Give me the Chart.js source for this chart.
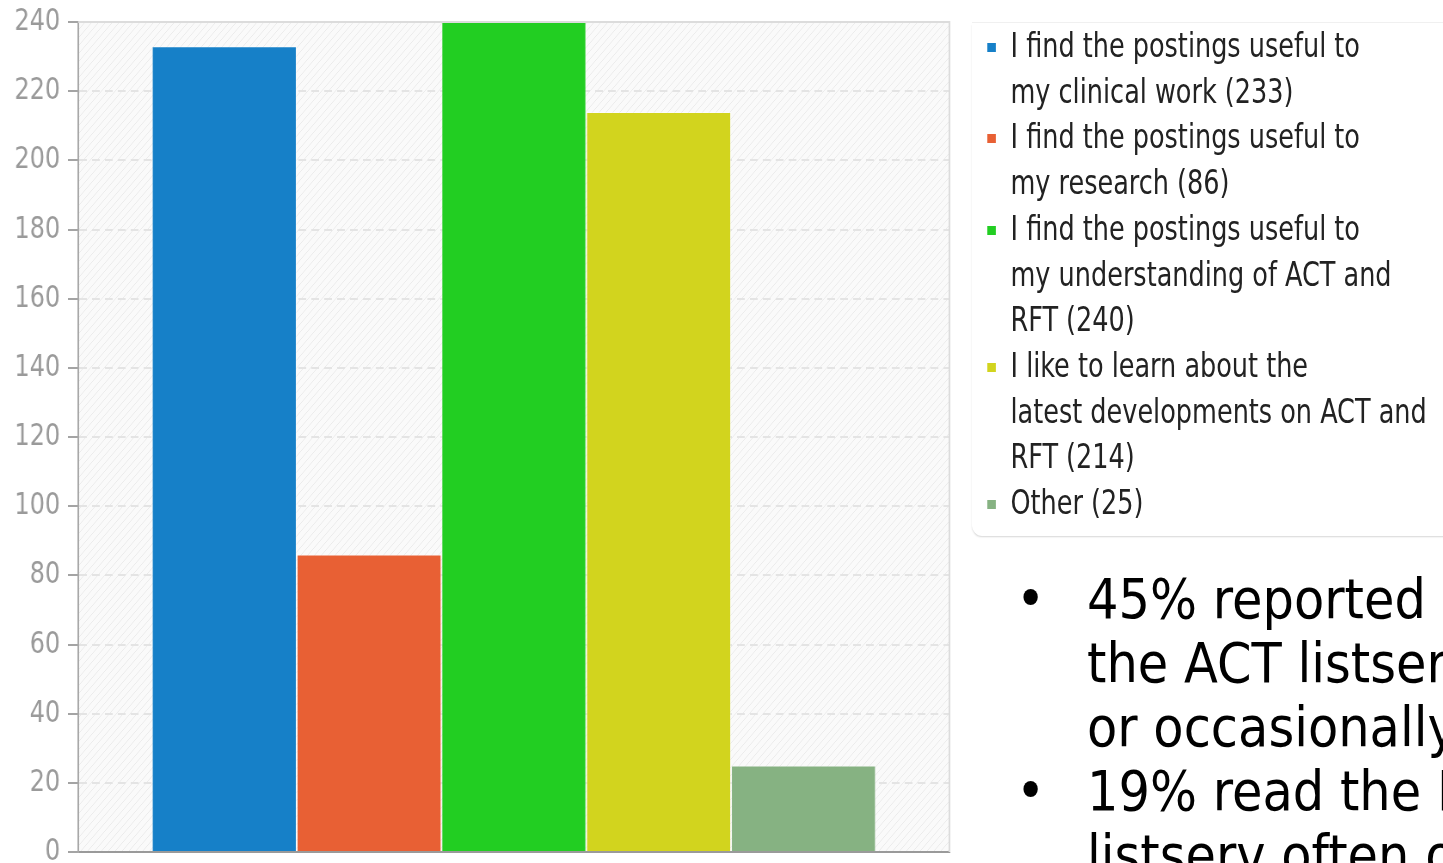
<!DOCTYPE html>
<html>
<head>
<meta charset="utf-8">
<script src="https://cdn.jsdelivr.net/npm/chart.js@4.4.1/dist/chart.umd.min.js"></script>
<style>
  html, body { margin: 0; padding: 0; background: #fff; overflow: hidden; }
  body { width: 1443px; height: 863px; position: relative; }
  /* the survey chart was exported a bit narrow, so the whole panel is squeezed horizontally */
  #stage { position: absolute; left: 0; top: 0; width: 1700px; height: 900px;
           transform: scaleX(0.86); transform-origin: 0 0; }
  #chartBox { position: absolute; left: 0; top: 0; width: 1110px; height: 900px; }
  #legendBox { position: absolute; left: 1130px; top: 22px; width: 600px; height: 513px;
               background: #fff; border-radius: 0 0 0 12px;
               border-top: 1px solid #f0f0f0;
               box-shadow: 0 2px 2px -1px rgba(0, 0, 0, 0.16); }
  #legend { position: absolute; left: 1148px; top: 23px;
            font: 33px "DejaVu Sans Condensed", "DejaVu Sans", sans-serif;
            line-height: 45.7px; color: #222; white-space: nowrap; }
  #legend .item { position: relative; padding-left: 27px; }
  #legend .swatch { position: absolute; left: 0; top: 20px; width: 10px; height: 9px; }
  #notesClip { position: absolute; left: 1000px; top: 560px; width: 443px; height: 303px; overflow: hidden; }
  #notes { position: absolute; left: 87px; top: 7px;
           font: 55px "DejaVu Sans", sans-serif; line-height: 64px; color: #000; }
  #notes .line { position: relative; white-space: nowrap; transform: scaleX(0.9); transform-origin: 0 0; }
  #notes .bullet { position: absolute; left: -79px; top: 0; }
</style>
</head>
<body>
<div id="stage">
  <div id="chartBox"><canvas id="chartReasons"></canvas></div>
  <div id="legendBox"></div>
  <div id="legend"></div>
</div>
<div id="notesClip"><div id="notes"></div></div>

<script>
const categories = [''];
const seriesNames = [
    ['I find the postings useful to', 'my clinical work'],
    ['I find the postings useful to', 'my research'],
    ['I find the postings useful to', 'my understanding of ACT and', 'RFT'],
    ['I like to learn about the', 'latest developments on ACT and', 'RFT'],
    ['Other']
];
const seriesValues = [233, 86, 240, 214, 25];
const seriesColors = ['#1680c8', '#e86034', '#22ce22', '#d2d41e', '#86b282'];
const yMin = 0;
const yMax = 240;
const yStep = 20;

const noteLines = [
    ['•', '45% reported reading'],
    ['', 'the ACT listserv often'],
    ['', 'or occasionally'],
    ['•', '19% read the RFT'],
    ['', 'listserv often or']
];

// hatched plot background plus the light frame on top and right
const plotFrame = {
    id: 'plotFrame',
    beforeDraw(chart) {
        const {ctx, chartArea: a} = chart;
        ctx.save();
        ctx.beginPath();
        ctx.rect(a.left, a.top, a.width, a.height);
        ctx.clip();
        ctx.fillStyle = '#fafafa';
        ctx.fillRect(a.left, a.top, a.width, a.height);
        ctx.strokeStyle = '#ebebeb';
        ctx.lineWidth = 1;
        ctx.beginPath();
        for (let x = a.left - a.height; x < a.right; x += 8) {
            ctx.moveTo(x, a.bottom);
            ctx.lineTo(x + a.height, a.top);
        }
        ctx.stroke();
        ctx.restore();
    },
    afterDraw(chart) {
        const {ctx, chartArea: a} = chart;
        ctx.save();
        ctx.strokeStyle = '#dcdcdc';
        ctx.lineWidth = 2;
        ctx.beginPath();
        ctx.moveTo(a.left, a.top);
        ctx.lineTo(a.right, a.top);
        ctx.lineTo(a.right, a.bottom);
        ctx.stroke();
        ctx.restore();
    }
};

function DrawChartReasons() {
    const datasets = seriesValues.map((v, i) => ({
        label: seriesNames[i].join(' '),
        data: [v],
        backgroundColor: seriesColors[i],
        borderColor: 'rgba(255, 255, 255, 0.35)',
        borderWidth: 1
    }));

    const config = {
        type: 'bar',
        data: { labels: categories, datasets: datasets },
        options: {
            responsive: true,
            maintainAspectRatio: false,
            animation: false,
            categoryPercentage: 0.831,
            barPercentage: 1,
            layout: { padding: { top: 22, bottom: 48, left: 0, right: 6 } },
            plugins: {
                legend: { display: false },
                tooltip: { enabled: false }
            },
            scales: {
                x: {
                    ticks: { display: false },
                    grid: { display: false, drawTicks: false },
                    border: { color: '#9a9a9a', width: 2 }
                },
                y: {
                    min: yMin,
                    max: yMax,
                    ticks: {
                        stepSize: yStep,
                        color: '#9a9a9a',
                        padding: 9,
                        font: { family: 'DejaVu Sans Condensed', size: 31 }
                    },
                    grid: {
                        color: '#e4e4e4',
                        lineWidth: 2,
                        tickLength: 12,
                        tickColor: '#a4a4a4',
                        tickWidth: 2
                    },
                    border: { color: '#a8a8a8', width: 2, dash: [9, 6] },
                    afterFit(scale) {
                        scale.width = 91;
                        // the end labels may run past the plot; keep the plot at the padding
                        scale.paddingTop = 0;
                        scale.paddingBottom = 0;
                    }
                }
            }
        },
        plugins: [plotFrame]
    };

    new Chart(document.getElementById('chartReasons'), config);
}

function DrawLegend() {
    const box = document.getElementById('legend');
    seriesNames.forEach((lines, i) => {
        const item = document.createElement('div');
        item.className = 'item';
        const sw = document.createElement('span');
        sw.className = 'swatch';
        sw.style.background = seriesColors[i];
        item.appendChild(sw);
        const text = lines.slice();
        text[text.length - 1] += ' (' + seriesValues[i] + ')';
        text.forEach(t => {
            const d = document.createElement('div');
            d.textContent = t;
            item.appendChild(d);
        });
        box.appendChild(item);
    });
}

function DrawNotes() {
    const box = document.getElementById('notes');
    noteLines.forEach(([mark, t]) => {
        const d = document.createElement('div');
        d.className = 'line';
        d.textContent = t;
        if (mark) {
            const b = document.createElement('span');
            b.className = 'bullet';
            b.textContent = mark;
            d.appendChild(b);
        }
        box.appendChild(d);
    });
}

DrawChartReasons();
DrawLegend();
DrawNotes();
</script>
</body>
</html>
